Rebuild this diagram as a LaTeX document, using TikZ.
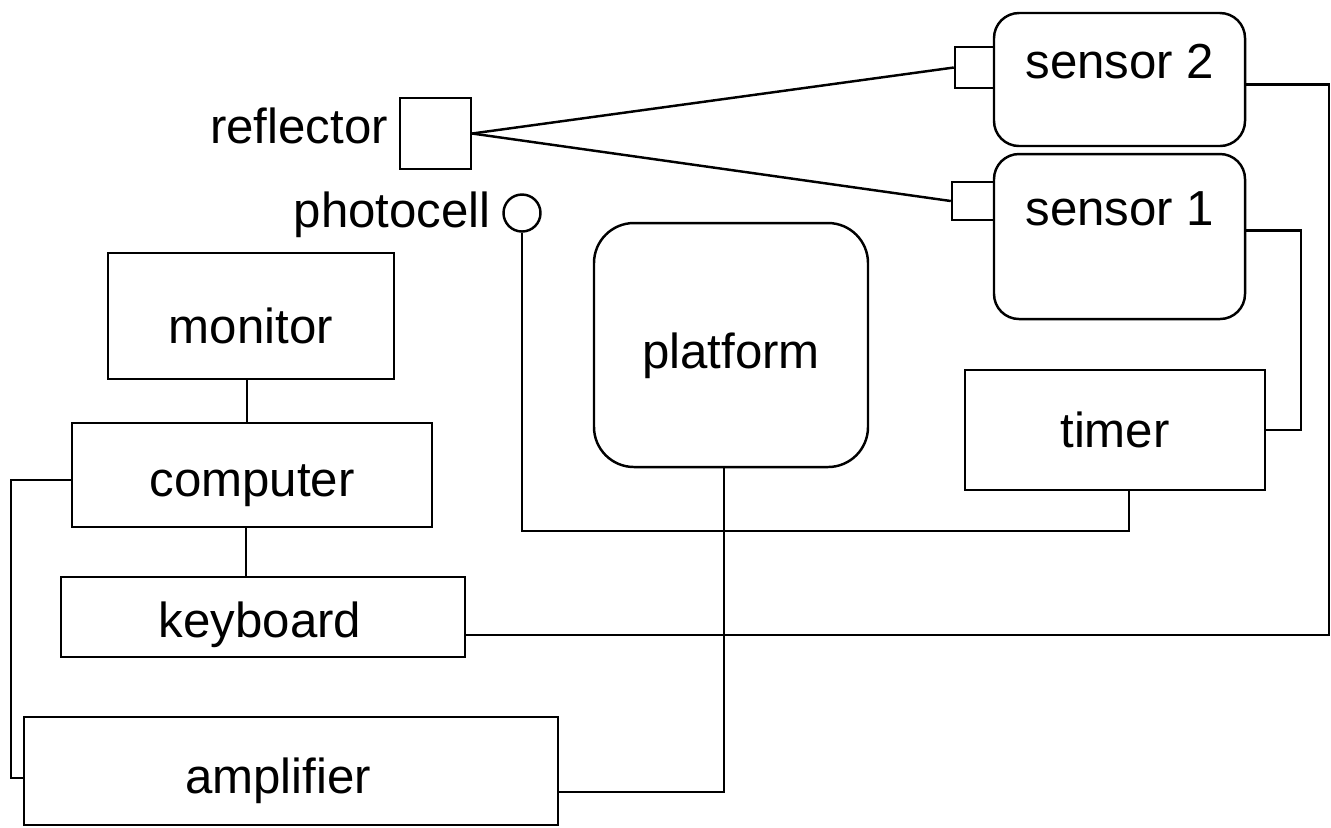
\documentclass[tikz,border=0pt]{standalone}
\usepackage{fontspec}
\setmainfont{Liberation Sans}
\usepackage{tikz}
\usetikzlibrary{calc, positioning, shapes.geometric}
\tikzset{
    block/.style ={rectangle, draw, inner sep=0pt},
    rblock/.style ={rectangle, draw, inner sep=0pt, rounded corners=0.25cm},
    port/.style = {rectangle, draw, inner sep=0pt},
    cell/.style = {circle, draw, inner sep=0pt, minimum size=0.37cm},
    tag/.style = {inner sep=0pt}
    }

\begin{document}
\begin{tikzpicture}[
      line width=0.7pt, % line style
      font=\fontsize{14}{17}\selectfont
    ]
    \useasboundingbox (0,0) rectangle (13.31,-8.27);

    \node[port, minimum size=0.71cm] (1) at (4.355,-1.335) {};
    \node[tag, anchor=base east] (1t) at (3.89,-1.43) {reflector};

    \node[cell] (2) at (5.22,-2.13) {};
    \node[tag, anchor=base east] (2t) at (4.92,-2.27) {photocell};

    \node[rblock, minimum width=2.51cm, minimum height=1.33cm] (3) at (11.195,-0.795) {};
    \node[tag] (3t) at (11.2,-0.62) {sensor 2};
    \node[port, minimum width=0.39cm, minimum height=0.41cm] (4) at (9.745,-0.675) {};

    \node[rblock, minimum width=2.51cm, minimum height=1.65cm] (5) at (11.195,-2.365) {};
    \node[tag] (5t) at (11.2,-2.09) {sensor 1};
    \node[port, minimum width=0.42cm, minimum height=0.38cm] (6) at (9.73,-2.01) {};

    \node[rblock, rounded corners=0.4cm, minimum width=2.74cm, minimum height=2.44cm] (7) at (7.31,-3.45) {};
    \node[tag] (7t) at (7.31,-3.56) {platform};

    \node[block, minimum width=2.86cm, minimum height=1.26cm] (8) at (2.51,-3.16) {};
    \node[tag] (8t) at (2.51,-3.26) {monitor};
    \node[block, minimum width=3.6cm, minimum height=1.04cm] (9) at (2.52,-4.75) {};
    \node[tag] (9t) at (2.52,-4.86) {computer};
    \node[block, minimum width=4.04cm, minimum height=0.8cm] (10) at (2.63,-6.17) {};
    \node[tag] (10t) at (2.60,-6.25) {keyboard};
    \node[block, minimum width=5.34cm, minimum height=1.08cm] (11) at (2.91,-7.71) {};
    \node[tag] (11t) at (2.78,-7.81) {amplifier};
    \node[block, minimum width=3.0cm, minimum height=1.2cm] (12) at (11.15,-4.30) {timer};

    \draw (1.east) -- (4.west);
    \draw (1.east) -- (6.west);

    \draw ([yshift=-0.05cm]3.east) -- ++(0.83,0) |- ([yshift=-0.18cm]10.east);
    \draw ([yshift=0.06cm]5.east) -- ++(0.55,0) |- (12.east);
    \draw (2.south) -- ++(0,-2.98) -| ([xshift=0.14cm]12.south);
    \draw ([xshift=-0.07cm]7.south) |- ([yshift=-0.21cm]11.east);

    \draw ([xshift=-0.04cm]8.south) -- ([xshift=-0.04cm]8.south |- 9.north);
    \draw ([xshift=-0.06cm]9.south) -- ([xshift=-0.06cm]9.south |- 10.north);
    \draw ([yshift=-0.05cm]9.west) -- ++(-0.6,0) |- ([yshift=-0.07cm]11.west);
\end{tikzpicture}
\end{document}
